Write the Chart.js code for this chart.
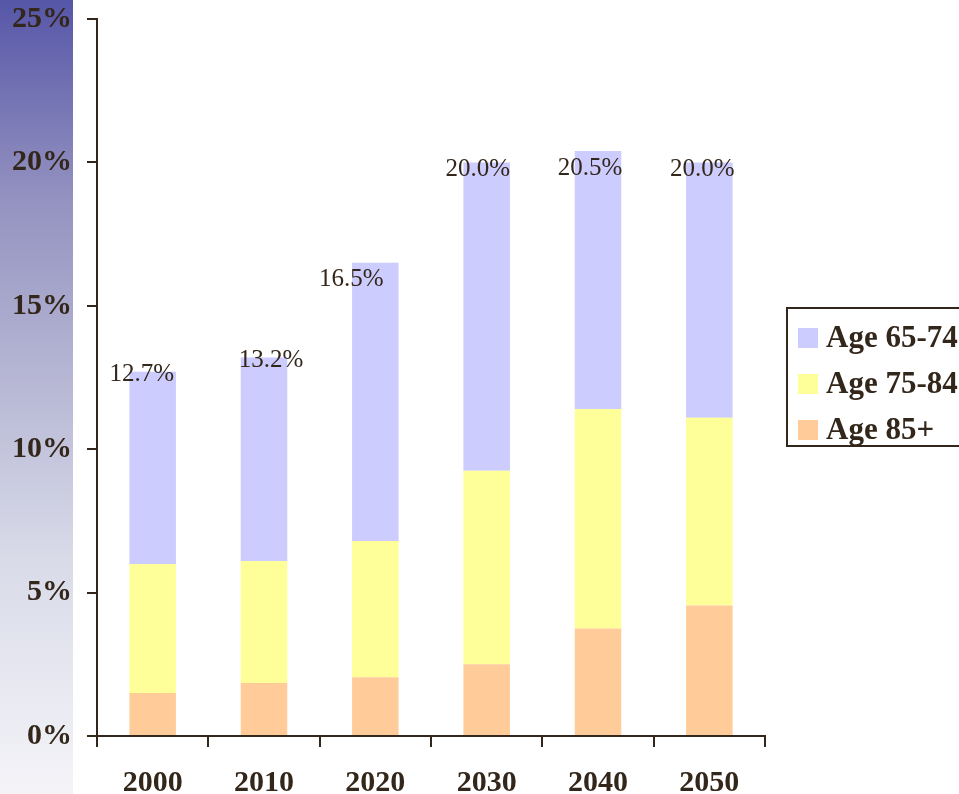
<!DOCTYPE html>
<html>
<head>
<meta charset="utf-8">
<script src="https://cdn.jsdelivr.net/npm/chart.js@4"></script>
<style>
  html, body { margin: 0; padding: 0; background: #fff; }
  .wrap { position: relative; width: 959px; height: 794px; overflow: hidden; }
  #legend {
    position: absolute; left: 786px; top: 307px; width: 200px; height: 136px;
    border: 2px solid #33261a; box-sizing: content-box;
    font: bold 31px "Liberation Serif", "Times New Roman", serif; color: #33261a;
  }
  #legend .row { position: absolute; left: 10px; height: 30px; white-space: nowrap; }
  #legend .sw { position: absolute; left: 0; top: 6px; width: 20px; height: 20px; }
  #legend .tx { position: absolute; left: 28px; top: 0; line-height: 30px; }
</style>
</head>
<body>
<div class="wrap">
  <canvas id="myChart" width="959" height="794"></canvas>
  <div id="legend"></div>
</div>
<script>
const ctx = document.getElementById("myChart");

const years = ['2000', '2010', '2020', '2030', '2040', '2050'];
const age85 = [1.5, 1.85, 2.05, 2.5, 3.75, 4.55];
const age75 = [4.5, 4.25, 4.75, 6.75, 7.65, 6.55];
const age65 = [6.7, 7.1, 9.7, 10.75, 9.0, 8.9];
const totals = ['12.7%', '13.2%', '16.5%', '20.0%', '20.5%', '20.0%'];

const ink = '#33261a';
const serif = '"Liberation Serif", "Times New Roman", serif';

// left strip with the blue fade
const sideFade = {
    id: 'sideFade',
    beforeDraw(chart) {
        const c = chart.ctx;
        const g = c.createLinearGradient(0, 0, 0, chart.height);
        g.addColorStop(0, 'rgb(86,86,168)');
        g.addColorStop(0.25, 'rgb(148,146,192)');
        g.addColorStop(0.7, 'rgb(216,218,232)');
        g.addColorStop(1, 'rgb(244,244,248)');
        c.save();
        c.fillStyle = g;
        c.fillRect(0, 0, 73, chart.height);
        c.restore();
    }
};

// total labels, placed roughly like the original
const nudge = [[-11, 3], [7, 3], [-24, 17], [-9, 7], [-8, 18], [-7, 7]];
const totalLabels = {
    id: 'totalLabels',
    afterDatasetsDraw(chart) {
        const c = chart.ctx;
        const meta = chart.getDatasetMeta(2);
        c.save();
        c.font = '25px ' + serif;
        c.fillStyle = ink;
        c.textAlign = 'center';
        c.textBaseline = 'middle';
        meta.data.forEach((bar, i) => {
            c.fillText(totals[i], bar.x + nudge[i][0], bar.y + nudge[i][1]);
        });
        c.restore();
    }
};

const chart = new Chart(ctx, {
    type: 'bar',
    data: {
        labels: years,
        datasets: [
            { label: 'Age 85+', data: age85, backgroundColor: '#ffcc99' },
            { label: 'Age 75-84', data: age75, backgroundColor: '#ffff99' },
            { label: 'Age 65-74', data: age65, backgroundColor: '#ccccff' }
        ]
    },
    options: {
        responsive: false,
        animation: false,
        categoryPercentage: 1,
        barPercentage: 0.418,
        layout: { padding: { top: 19, right: 194, left: 0, bottom: 0 } },
        plugins: {
            legend: { display: false },
            tooltip: { enabled: false }
        },
        scales: {
            x: {
                stacked: true,
                border: { color: ink, width: 2 },
                grid: { display: true, drawOnChartArea: false, offset: true, color: ink, lineWidth: 2, tickLength: 11 },
                ticks: { color: ink, font: { family: serif, size: 30, weight: 'bold' }, padding: 18 },
                afterFit(s) { s.height = 58; s.paddingLeft = 0; s.paddingRight = 0; }
            },
            y: {
                stacked: true,
                min: 0,
                max: 25,
                border: { color: ink, width: 2 },
                grid: { display: true, drawOnChartArea: false, color: ink, lineWidth: 2, tickLength: 10 },
                ticks: {
                    stepSize: 5,
                    color: ink,
                    padding: 15,
                    font: { family: serif, size: 30, weight: 'bold' },
                    callback: v => v + '%'
                },
                afterFit(s) { s.width = 97; s.paddingTop = 0; s.paddingBottom = 0; }
            }
        }
    },
    plugins: [sideFade, totalLabels]
});

// legend box, top series first
const legend = document.getElementById('legend');
chart.data.datasets.slice().reverse().forEach((ds, i) => {
    const row = document.createElement('div');
    row.className = 'row';
    row.style.top = (13 + i * 46) + 'px';
    row.innerHTML = '<span class="sw" style="background:' + ds.backgroundColor + '"></span><span class="tx">' + ds.label + '</span>';
    legend.appendChild(row);
});
</script>
</body>
</html>
